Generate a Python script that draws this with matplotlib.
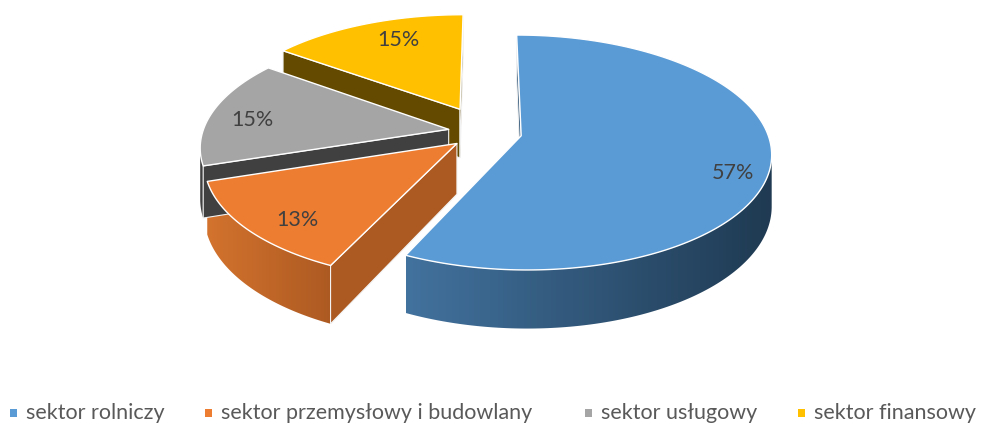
import numpy as np
import matplotlib.pyplot as plt
from matplotlib.patches import Polygon, Rectangle
from matplotlib.colors import to_rgb

# dane
sektory = ['sektor rolniczy', 'sektor przemysłowy i budowlany', 'sektor usługowy', 'sektor finansowy']
udzialy = [57, 13, 15, 15]
etykiety = ['57%', '13%', '15%', '15%']

# wyglad
kolory_gora = ['#5B9BD5', '#ED7D31', '#A5A5A5', '#FFC000']
kolory_bok_l = ['#42729E', '#D3732E', '#404040', '#634A00']
kolory_bok_p = ['#1F3A52', '#AD5A22', '#404040', '#634A00']
kolory_promien = ['#2E5476', '#AD5A22', '#404040', '#634A00']
wysuniecie = [0.15, 0.15, 0.15, 0.23]
promien_etykiety = [0.85, 0.78, 0.83, 0.63]
przesun_etykiety = [(0, 14), (0, 10), (0, 4), (0, -14)]
legenda_x = [10, 205, 585, 798]

# rzut perspektywiczny (piksele)
CX, CY = 485, 133
A, B, K, H = 246, 114, 0.142, 50


def rzut(u, v, dol=0.0):
    s = 1 + K * v
    return CX + A * u / s, CY - (B * v - H * dol) / s


def pole(pts):
    x = np.array([p[0] for p in pts]); y = np.array([p[1] for p in pts])
    return 0.5 * np.sum(x * np.roll(y, -1) - np.roll(x, -1) * y)


fig = plt.figure(figsize=(9.81, 4.27), dpi=100)
ax = fig.add_axes([0, 0, 1, 1])
ax.axis('off')

ulamki = np.array(udzialy) / sum(udzialy)
granice = np.concatenate([[0], np.cumsum(ulamki)]) * 2 * np.pi

wycinki = []
for i in range(len(udzialy)):
    a, b = granice[i], granice[i + 1]
    srodek = (a + b) / 2
    du, dv = wysuniecie[i] * np.sin(srodek), wysuniecie[i] * np.cos(srodek)
    wycinki.append((dv, i, a, b, srodek, du))

# od tylu do przodu
for dv, i, a, b, srodek, du in sorted(wycinki, reverse=True):
    th = np.linspace(a, b, max(int((b - a) / 0.01), 4))
    gora = [rzut(du + np.sin(t), dv + np.cos(t)) for t in th]
    dol = [rzut(du + np.sin(t), dv + np.cos(t), 1) for t in th]
    wierz = rzut(du, dv)
    wierz_d = rzut(du, dv, 1)

    # sciana boczna zakrzywiona z gradientem (obciety obrazek)
    widoczne = [j for j in range(len(th) - 1)
                if pole([gora[j], gora[j + 1], dol[j + 1], dol[j]]) < 0]
    if widoczne:
        j0, j1 = widoczne[0], widoczne[-1] + 1
        kontur = gora[j0:j1 + 1] + dol[j0:j1 + 1][::-1]
        xs = [p[0] for p in kontur]; ys = [p[1] for p in kontur]
        cl, cp = np.array(to_rgb(kolory_bok_l[i])), np.array(to_rgb(kolory_bok_p[i]))
        t = np.linspace(0, 1, 256)[None, :, None]
        grad = cl[None, None, :] * (1 - t) + cp[None, None, :] * t
        sciana = Polygon(kontur, closed=True, facecolor='none', edgecolor='none')
        ax.add_patch(sciana)
        im = ax.imshow(grad, extent=(min(xs), max(xs), max(ys), min(ys)),
                       aspect='auto', interpolation='bilinear')
        im.set_clip_path(sciana)

    # sciany promieniowe
    for q in ([wierz, gora[0], dol[0], wierz_d], [gora[-1], wierz, wierz_d, dol[-1]]):
        if pole(q) < 0:
            ax.add_patch(Polygon(q, closed=True, facecolor=kolory_promien[i],
                                 edgecolor='#F2F2F2', lw=0.8))

    # wierzch
    ax.add_patch(Polygon([wierz] + gora, closed=True, facecolor=kolory_gora[i],
                         edgecolor='white', lw=1.0, joinstyle='round'))

    # etykieta
    r = promien_etykiety[i]
    lx, ly = rzut(du + r * np.sin(srodek), dv + r * np.cos(srodek))
    ax.text(lx + przesun_etykiety[i][0], ly + przesun_etykiety[i][1], etykiety[i],
            ha='center', va='center', fontsize=15.5, color='#404040', family='Lato')

# legenda
for i, nazwa in enumerate(sektory):
    x = legenda_x[i]
    ax.add_patch(Rectangle((x, 410), 7, 8, facecolor=kolory_gora[i], edgecolor='none'))
    ax.text(x + 16, 413, nazwa, ha='left', va='center', fontsize=15.5,
            color='#595959', family='Lato')

ax.set_xlim(0, 981)
ax.set_ylim(427, 0)
fig.savefig('out.png', dpi=100)
